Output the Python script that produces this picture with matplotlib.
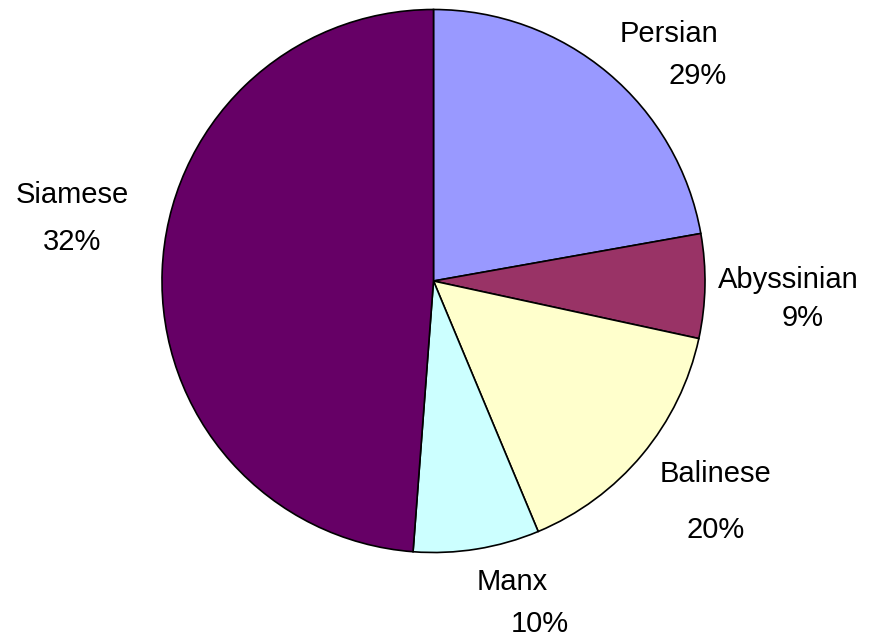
import matplotlib
matplotlib.use("Agg")
import matplotlib.pyplot as plt

categories = ["Persian", "Abyssinian", "Balinese", "Manx", "Siamese"]
slice_values = [22.2, 6.2, 15.3, 7.5, 48.8]
label_percents = ["29%", "9%", "20%", "10%", "32%"]
colors = ["#9999FF", "#993366", "#FFFFCC", "#CCFFFF", "#660066"]

# label positions in pixels (name, percent)
name_pos = [(669, 34), (788, 280), (716, 474), (512, 582), (72, 195)]
pct_pos = [(698, 76), (803, 318), (716, 530), (540, 624), (72, 242)]

W, H = 875, 639
fig = plt.figure(figsize=(W / 100, H / 100), dpi=100)
cx, cy, r = 433.5, 281, 271.5
ax = fig.add_axes([(cx - r) / W, (H - cy - r) / H, 2 * r / W, 2 * r / H])
ax.pie(slice_values, colors=colors, startangle=90, counterclock=False, radius=1,
       wedgeprops=dict(edgecolor="black", linewidth=1.2))
ax.set_xlim(-1, 1)
ax.set_ylim(-1, 1)
ax.set_aspect("equal")
ax.axis("off")

fs = 21
for name, pct, (nx, ny), (px, py) in zip(categories, label_percents, name_pos, pct_pos):
    fig.text(nx / W, 1 - ny / H, name, ha="center", va="center",
             fontsize=fs, family="Liberation Sans")
    fig.text(px / W, 1 - py / H, pct, ha="center", va="center",
             fontsize=fs, family="Liberation Sans")

fig.savefig("out.png", dpi=100)
